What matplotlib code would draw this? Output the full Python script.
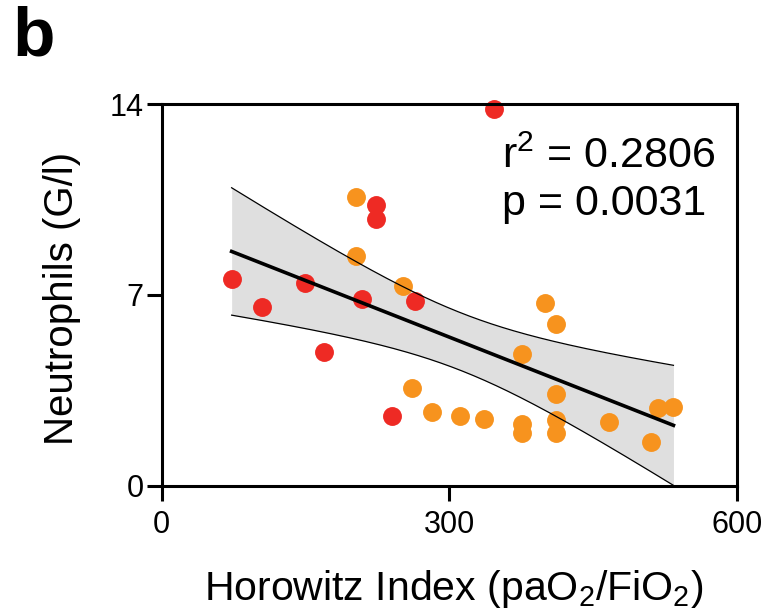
import numpy as np
import matplotlib
matplotlib.use("Agg")
import matplotlib.pyplot as plt

plt.rcParams['font.family'] = ['Liberation Sans', 'DejaVu Sans']
plt.rcParams['mathtext.fontset'] = 'custom'
plt.rcParams['mathtext.rm'] = 'Liberation Sans'
plt.rcParams['mathtext.default'] = 'regular'

# Horowitz index vs neutrophil count, two patient groups
red_x = [73, 105, 150, 169, 209, 224, 224, 240, 264, 347]
red_y = [7.60, 6.57, 7.43, 4.92, 6.85, 10.30, 9.77, 2.55, 6.78, 13.81]

orange_x = [203, 203, 252, 261, 282, 311, 336, 376, 376, 376,
            400, 411, 411, 411, 411, 467, 511, 518, 534]
orange_y = [10.60, 8.44, 7.34, 3.60, 2.71, 2.57, 2.44, 4.83, 2.27, 1.93,
            6.72, 5.94, 3.36, 2.42, 1.93, 2.33, 1.61, 2.87, 2.88]

r2_text = 'r$^2$ = 0.2806'
p_text = 'p = 0.0031'

x_ticks = [0, 300, 600]
y_ticks = [0, 7, 14]

red = '#EE2A24'
orange = '#F7931E'

# linear fit with 95% confidence band
x_all = np.array(red_x + orange_x, dtype=float)
y_all = np.array(red_y + orange_y, dtype=float)
n = len(x_all)
slope, intercept = np.polyfit(x_all, y_all, 1)
resid = y_all - (slope * x_all + intercept)
s_err = np.sqrt(np.sum(resid ** 2) / (n - 2))
x_mean = x_all.mean()
sxx = np.sum((x_all - x_mean) ** 2)
t_val = 2.052  # t(0.975, 27)
xf = np.linspace(x_all.min(), x_all.max(), 200)
yf = slope * xf + intercept
half = t_val * s_err * np.sqrt(1.0 / n + (xf - x_mean) ** 2 / sxx)

fig = plt.figure(figsize=(7.75, 6.14), dpi=100)
ax = fig.add_axes([0.2086, 0.2085, 0.742, 0.6221])

ax.fill_between(xf, yf - half, yf + half, color='#DFDFDF', lw=0, zorder=1)
ax.scatter(red_x, red_y, s=185, color=red, lw=0, zorder=2, clip_on=False)
ax.scatter(orange_x, orange_y, s=185, color=orange, lw=0, zorder=2, clip_on=False)
ax.plot(xf, yf + half, color='black', lw=0.9, zorder=3)
ax.plot(xf, yf - half, color='black', lw=0.9, zorder=3)
ax.plot(xf, yf, color='black', lw=2.6, zorder=4)

ax.set_xlim(0, 600)
ax.set_ylim(0, 14)
ax.set_xticks(x_ticks)
ax.set_yticks(y_ticks)
for sp in ax.spines.values():
    sp.set_linewidth(2.2)
ax.tick_params(direction='out', length=11, width=2.2, labelsize=22)
ax.tick_params(axis='x', pad=6)
ax.tick_params(axis='y', pad=2)

# axis titles placed in figure coordinates
fig.text(0.585, 0.022, 'Horowitz Index (paO$_2$/FiO$_2$)', fontsize=29.5,
         ha='center', va='baseline')
fig.text(0.080, 0.5147, 'Neutrophils (G/l)', fontsize=29, rotation=90,
         ha='center', va='center')

fig.text(0.6477, 0.7264, r2_text, fontsize=31, ha='left', va='baseline')
fig.text(0.6477, 0.6498, p_text, fontsize=31, ha='left', va='baseline')

fig.text(0.0155, 0.9104, 'b', fontsize=50, fontweight='bold',
         ha='left', va='baseline')

fig.savefig('out.png', dpi=100)
